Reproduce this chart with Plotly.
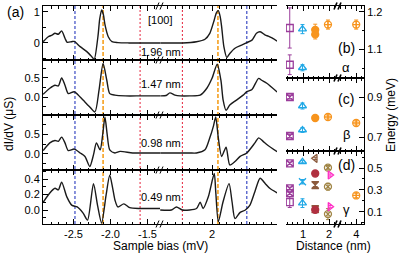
import plotly.graph_objects as go

W, H = 399, 255
FONT = "Arial, Liberation Sans, sans-serif"

# ---------------- Panel (a): dI/dV spectra (uS) vs sample bias (mV) ----------------
row_labels = ["1.96 nm", "1.47 nm", "0.98 nm", "0.49 nm"]

r1_bias_neg = [-2.91, -2.84, -2.79, -2.75, -2.705, -2.66, -2.615, -2.585, -2.525, -2.49, -2.41, -2.32,
               -2.25, -2.22, -2.17, -2.145, -2.119, -2.095, -2.074, -2.03, -1.98, -1.90, -1.75, -1.60, -1.45, -1.33]
r1_didv_neg = [0.04, 0.20, 0.25, 0.31, 0.28, 0.39, 0.15, 0.02, 0.04, 0.05, -0.12, -0.28,
               -0.45, -0.53, 0.20, 0.78, 1.06, 0.90, 0.58, 0.20, 0.04, 0.01, 0.0, 0.0, 0.0, 0.0]
r1_bias_pos = [1.30, 1.45, 1.60, 1.79, 1.905, 1.97, 2.03, 2.06, 2.085, 2.11, 2.13, 2.16, 2.20, 2.24, 2.31, 2.40,
               2.47, 2.54, 2.60, 2.65, 2.72, 2.76, 2.81, 2.88]
r1_didv_pos = [0.0, 0.0, 0.0, 0.04, 0.12, 0.31, 0.74, 0.98, 1.04, 0.85, 0.52, -0.12, -0.47, -0.34, -0.17, -0.07,
               0.01, 0.09, 0.31, 0.36, 0.25, 0.22, 0.16, 0.06]

r2_bias_neg = [-2.91, -2.82, -2.75, -2.705, -2.66, -2.615, -2.57, -2.49, -2.41, -2.37, -2.28, -2.21,
               -2.155, -2.10, -2.05, -2.01, -1.94, -1.80, -1.60, -1.45, -1.33]
r2_didv_neg = [0.07, 0.23, 0.31, 0.29, 0.50, 0.31, 0.09, 0.14, 0.00, -0.08, -0.26, -0.39,
               0.18, 0.88, 0.44, 0.09, 0.05, 0.03, 0.03, 0.03, 0.03]
r2_bias_pos = [1.30, 1.38, 1.43, 1.50, 1.57, 1.70, 1.84, 1.93, 2.00, 2.07, 2.12, 2.15, 2.19, 2.24,
               2.33, 2.42, 2.47, 2.54, 2.63, 2.67, 2.74, 2.88]
r2_didv_pos = [0.03, 0.04, 0.11, 0.05, 0.03, 0.03, 0.05, 0.23, 0.49, 0.86, 0.44, -0.08, -0.35, -0.21,
               -0.08, 0.05, 0.14, 0.20, 0.49, 0.44, 0.36, 0.13]

r3_bias_neg = [-2.91, -2.82, -2.75, -2.705, -2.66, -2.615, -2.57, -2.49, -2.41, -2.345, -2.28, -2.23,
               -2.19, -2.14, -2.105, -2.075, -2.045, -2.01, -1.94, -1.87, -1.70, -1.50, -1.33]
r3_didv_neg = [0.08, 0.28, 0.34, 0.32, 0.43, 0.28, 0.08, 0.12, 0.02, -0.07, -0.33, -0.03,
               0.28, 0.10, 0.50, 0.95, 0.50, 0.10, 0.02, 0.06, 0.02, 0.02, 0.02]
r3_bias_pos = [1.30, 1.50, 1.70, 1.79, 1.905, 1.97, 2.02, 2.05, 2.085, 2.13, 2.19, 2.24, 2.31, 2.38,
               2.47, 2.58, 2.63, 2.69, 2.74, 2.88]
r3_didv_pos = [0.02, 0.02, 0.02, 0.02, 0.10, 0.41, 0.72, 0.95, 0.41, -0.07, 0.17, -0.29, -0.20, -0.07,
               0.02, 0.28, 0.41, 0.32, 0.24, 0.05]

r4_bias_neg = [-2.91, -2.82, -2.75, -2.705, -2.66, -2.59, -2.52, -2.45, -2.37, -2.31, -2.23, -2.175,
               -2.12, -2.06, -2.01, -1.97, -1.94, -1.90, -1.82, -1.74, -1.60, -1.45, -1.33]
r4_didv_neg = [0.10, 0.22, 0.28, 0.26, 0.36, 0.17, 0.06, 0.04, -0.04, -0.13, 0.34, 0.06,
               -0.17, 0.19, 0.45, 0.28, 0.13, 0.04, 0.08, 0.03, 0.02, 0.02, 0.02]
r4_bias_pos = [1.30, 1.45, 1.52, 1.60, 1.79, 1.84, 1.88, 1.95, 2.03, 2.05, 2.085, 2.15, 2.23, 2.27,
               2.31, 2.38, 2.45, 2.51, 2.58, 2.65, 2.72, 2.78, 2.88]
r4_didv_pos = [0.0, 0.0, 0.04, 0.0, 0.02, 0.10, 0.02, 0.17, 0.47, 0.24, -0.15, 0.11, 0.34, 0.11,
               -0.11, -0.03, 0.0, 0.06, 0.24, 0.41, 0.34, 0.28, 0.22]

spectra = [
    (r1_bias_neg, r1_didv_neg, r1_bias_pos, r1_didv_pos),
    (r2_bias_neg, r2_didv_neg, r2_bias_pos, r2_didv_pos),
    (r3_bias_neg, r3_didv_neg, r3_bias_pos, r3_didv_pos),
    (r4_bias_neg, r4_didv_neg, r4_bias_pos, r4_didv_pos),
]

# vertical marker lines (mV)
blue_lines = [-2.48, 2.47]
orange_lines = [-2.10, 2.08]
red_lines = [-1.60, 1.60]

# y ticks of the four spectra
row_tickvals = [[0, 1], [0, 0.5], [0, 0.5], [0, 0.2, 0.4]]
row_ticktext = [["0", "1"], ["0.0", "0.5"], ["0.0", "0.5"], ["0.0", "0.2", "0.4"]]
bias_tickvals_neg = [-2.5, -2.0, -1.5]
bias_ticktext_neg = ["-2.5", "-2.0", "-1.5"]
bias_tickvals_pos = [2]
bias_ticktext_pos = ["2"]

# ---------------- Panels (b)-(d): energies (meV) vs distance (nm) ----------------
# each series: (name, color, symbol, distances, energies, errors)
panel_b = [
    ("purple", "#9b3d9b", "square-open", [0.49, 0.49], [1.157, 1.060], [0.053, 0.026]),
    ("cyan", "#1fa8e6", "triangle-up-open", [0.98, 0.98], [1.154, 1.052], [0.012, 0.008]),
    ("orange", "#f7941d", "circle", [1.47, 1.47], [1.152, 1.140], [0.015, 0.012]),
    ("orange2", "#f7941d", "circle-cross-open", [1.96, 4.0], [1.166, 1.166], [0.012, 0.012]),
]
panel_c = [
    ("purple", "#9b3d9b", "square-x-open", [0.49, 0.49], [0.900, 0.705], [0.010, 0.010]),
    ("cyan", "#1fa8e6", "triangle-up-open", [0.98, 0.98], [0.855, 0.735], [0.015, 0.012]),
    ("orange", "#f7941d", "circle", [1.47], [0.795], [0.012]),
    ("orange2", "#f7941d", "circle-cross-open", [1.96, 4.0], [0.800, 0.770], [0.010, 0.010]),
]
panel_d = [
    ("purple", "#9b3d9b", "square-x-open", [0.49, 0.49, 0.49], [0.543, 0.315, 0.270], [0.01, 0.01, 0.01]),
    ("purple2", "#9b3d9b", "square-open", [0.49], [0.190], [0.05]),
    ("cyan", "#1fa8e6", "triangle-up-open", [0.98, 0.98], [0.557, 0.180], [0.01, 0.04]),
    ("cyan2", "#1fa8e6", "x-thin-open", [0.98], [0.375], [0.02]),
    ("brown", "#8b5a3c", "triangle-left-open", [1.47], [0.588], [0.01]),
    ("brown2", "#8b5a3c", "hourglass", [1.47, 1.47], [0.345, 0.125], [0.03, 0.01]),
    ("darkred", "#b03040", "circle", [1.47, 1.47], [0.450, 0.120], [0.01, 0.01]),
    ("olive", "#a08545", "circle-x-open", [1.96, 1.96, 1.96], [0.503, 0.330, 0.080], [0.02, 0.03, 0.05]),
    ("magenta", "#ff2ec4", "triangle-right-open", [2.04, 2.04], [0.436, 0.148], [0.01, 0.01]),
    ("orange2", "#f7941d", "circle-cross-open", [4.0], [0.250], [0.02]),
]
right_panels = [panel_b, panel_c, panel_d]
right_tickvals = [[1.1, 1.2], [0.7, 0.9], [0.1, 0.3, 0.5]]
right_ticktext = [["1.1", "1.2"], ["0.7", "0.9"], ["0.1", "0.3", "0.5"]]
right_minor = [0.05, 0.1, 0.1]
panel_names = ["(b)", "(c)", "(d)"]
level_names = ["\u03b1", "\u03b2", "\u03b3"]

# ---------------- layout geometry (pixels) ----------------
def fx(px):
    return px / W

def fy(py):
    return 1 - py / H

def axkey(kind, n):
    return kind + "axis" + ("" if n == 1 else str(n))

def ref(kind, n):
    return kind + ("" if n == 1 else str(n))

A_X0, A_XB, A_X1 = 43, 160, 277
rows_px = [(6, 60), (60, 115), (115, 170), (170, 224)]
row_ranges = [[-0.55, 1.19], [-0.47, 0.97], [-0.42, 1.0], [-0.18, 0.516]]
row_minor = [0.5, 0.25, 0.25, 0.1]
bias_range_neg = [-2.912, -1.331]
bias_range_pos = [1.297, 2.878]

B_X0, B_XB, B_X1 = 286, 338, 364
rpan_px = [(6, 78), (78, 151), (151, 224)]
rpan_ranges = [[1.025, 1.215], [0.63, 0.995], [-0.01, 0.655]]
dist_range_l = [0.346, 2.346]
dist_range_r = [3.3, 4.3]

fig = go.Figure()

base = dict(showline=True, linecolor="black", linewidth=1, ticks="inside", ticklen=5,
            tickwidth=1, tickcolor="black", showgrid=False, zeroline=False,
            tickfont=dict(size=11, color="black", family=FONT))

layout = {}
# panel (a) axes
for r in range(4):
    top, bot = rows_px[r]
    yid = r + 1
    xl, xr = 2 * r + 1, 2 * r + 2
    last = (r == 3)
    layout[axkey("x", xl)] = dict(base, domain=[fx(A_X0), fx(A_XB)], range=bias_range_neg,
                                  anchor=ref("y", yid), mirror="ticks", tickmode="array",
                                  tickvals=bias_tickvals_neg, ticktext=bias_ticktext_neg,
                                  showticklabels=last,
                                  minor=dict(ticks="inside", ticklen=2.5, dtick=0.1, tick0=0,
                                             tickcolor="black"))
    layout[axkey("x", xr)] = dict(base, domain=[fx(A_XB), fx(A_X1)], range=bias_range_pos,
                                  anchor=ref("y", yid), mirror="ticks", tickmode="array",
                                  tickvals=bias_tickvals_pos, ticktext=bias_ticktext_pos,
                                  showticklabels=last,
                                  minor=dict(ticks="inside", ticklen=2.5, dtick=0.1, tick0=0,
                                             tickcolor="black"))
    layout[axkey("y", yid)] = dict(base, domain=[fy(bot), fy(top)], range=row_ranges[r],
                                   anchor=ref("x", xl), side="left", tickmode="array",
                                   tickvals=row_tickvals[r], ticktext=row_ticktext[r],
                                   minor=dict(ticks="inside", ticklen=2.5, dtick=row_minor[r],
                                              tick0=0, tickcolor="black"))
    layout[axkey("y", 8 + r)] = dict(base, domain=[fy(bot), fy(top)], range=row_ranges[r],
                                     anchor=ref("x", xr), side="right", tickmode="array",
                                     tickvals=row_tickvals[r], showticklabels=False,
                                     minor=dict(ticks="inside", ticklen=2.5, dtick=row_minor[r],
                                                tick0=0, tickcolor="black"))
    bn, bd, pn, pd = spectra[r]
    fig.add_trace(go.Scatter(x=bn, y=bd, mode="lines", line=dict(color="#1a1a1a", width=1.4,
                             shape="spline", smoothing=0.7), xaxis=ref("x", xl), yaxis=ref("y", yid),
                             showlegend=False, hoverinfo="skip"))
    fig.add_trace(go.Scatter(x=pn, y=pd, mode="lines", line=dict(color="#1a1a1a", width=1.4,
                             shape="spline", smoothing=0.7), xaxis=ref("x", xr), yaxis=ref("y", yid),
                             showlegend=False, hoverinfo="skip"))

# panels (b)-(d) axes
for k in range(3):
    top, bot = rpan_px[k]
    xl, xr = 9 + 2 * k, 10 + 2 * k
    yid, yl = 5 + k, 12 + k
    last = (k == 2)
    layout[axkey("x", xl)] = dict(base, domain=[fx(B_X0), fx(B_XB)], range=dist_range_l,
                                  anchor=ref("y", yid), mirror="ticks", tickmode="array",
                                  tickvals=[1, 2], ticktext=["1", "2"], showticklabels=last,
                                  minor=dict(ticks="inside", ticklen=2.5, dtick=0.2, tick0=0,
                                             tickcolor="black"))
    layout[axkey("x", xr)] = dict(base, domain=[fx(B_XB), fx(B_X1)], range=dist_range_r,
                                  anchor=ref("y", yid), mirror="ticks", tickmode="array",
                                  tickvals=[4], ticktext=["4"], showticklabels=last,
                                  minor=dict(ticks="inside", ticklen=2.5, dtick=0.2, tick0=0,
                                             tickcolor="black"))
    layout[axkey("y", yid)] = dict(base, domain=[fy(bot), fy(top)], range=rpan_ranges[k],
                                   anchor=ref("x", xr), side="right", tickmode="array",
                                   tickvals=right_tickvals[k], ticktext=right_ticktext[k],
                                   minor=dict(ticks="inside", ticklen=2.5, dtick=right_minor[k],
                                              tick0=0, tickcolor="black"))
    layout[axkey("y", yl)] = dict(base, domain=[fy(bot), fy(top)], range=rpan_ranges[k],
                                  anchor=ref("x", xl), side="left", tickmode="array",
                                  tickvals=right_tickvals[k], showticklabels=False,
                                  minor=dict(ticks="inside", ticklen=2.5, dtick=right_minor[k],
                                             tick0=0, tickcolor="black"))
    for name, color, sym, ds, es, errs in right_panels[k]:
        for side_ax, cond in ((xl, lambda d: d < 3), (xr, lambda d: d >= 3)):
            idx = [i for i, d in enumerate(ds) if cond(d)]
            if not idx:
                continue
            fig.add_trace(go.Scatter(
                x=[ds[i] for i in idx], y=[es[i] for i in idx], mode="markers",
                marker=dict(symbol=sym, size=7, color=color, line=dict(color=color, width=1.3)),
                error_y=dict(type="data", array=[errs[i] for i in idx], visible=True,
                             thickness=1, width=2, color=color),
                xaxis=ref("x", side_ax), yaxis=ref("y", yid), showlegend=False, hoverinfo="skip"))

shapes = []
# vertical dashed lines across panel (a)
for vals, color, dash, wid in ((blue_lines, "#2a3bbf", "3px,2px", 1.1),
                               (orange_lines, "#f5a020", "4px,2px", 1.6),
                               (red_lines, "#e8384f", "2px,2px", 1.1)):
    for v in vals:
        shapes.append(dict(type="line", xref="x" if v < 0 else "x2", yref="paper",
                           x0=v, x1=v, y0=fy(224), y1=fy(6),
                           line=dict(color=color, width=wid, dash=dash), layer="below"))

# axis break marks
def brk(px, py, w=1.0):
    out = []
    for dx in (-2.5, 1.5):
        out.append(dict(type="line", xref="paper", yref="paper",
                        x0=fx(px + dx - 1.5), y0=fy(py + 3.5), x1=fx(px + dx + 1.5), y1=fy(py - 3.5),
                        line=dict(color="black", width=w)))
    return out

for py in (6, 60, 115, 170, 224):
    shapes += brk(A_XB, py)
for py in (6, 78, 151, 224):
    shapes += brk(B_XB, py, 1.6)

ann = []
def txt(s, px, py, size=11, angle=0, xanchor="center"):
    ann.append(dict(text=s, x=fx(px), y=fy(py), xref="paper", yref="paper", showarrow=False,
                    xanchor=xanchor, yanchor="middle", textangle=angle,
                    font=dict(size=size, color="black", family=FONT)))

txt("(a)", 15, 12, 14)
txt("[100]", 160, 20, 11)
for lab, py in zip(row_labels, (52, 84, 143, 197)):
    txt(lab, 161, py, 11)
txt("dI/dV (\u03bcS)", 9, 124, 12, -90)
txt("Sample bias (mV)", 160, 246, 12)
txt("Distance (nm)", 333, 246, 12)
txt("Energy (meV)", 391, 115, 12, -90)
for lab, py in zip(panel_names, (48, 99, 165)):
    txt(lab, 346, py, 14)
for lab, py in zip(level_names, (68, 134, 209)):
    txt(lab, 346, py, 13)

fig.update_layout(**layout)
fig.update_layout(width=W, height=H, margin=dict(l=0, r=0, t=0, b=0),
                  paper_bgcolor="white", plot_bgcolor="rgba(0,0,0,0)",
                  shapes=shapes, annotations=ann, showlegend=False,
                  font=dict(family=FONT, color="black"))

fig.write_html("out.html", config={"displayModeBar": False},
               post_script="document.body.style.margin='0';document.body.style.padding='0';"
                           "document.documentElement.style.overflow='hidden';")
